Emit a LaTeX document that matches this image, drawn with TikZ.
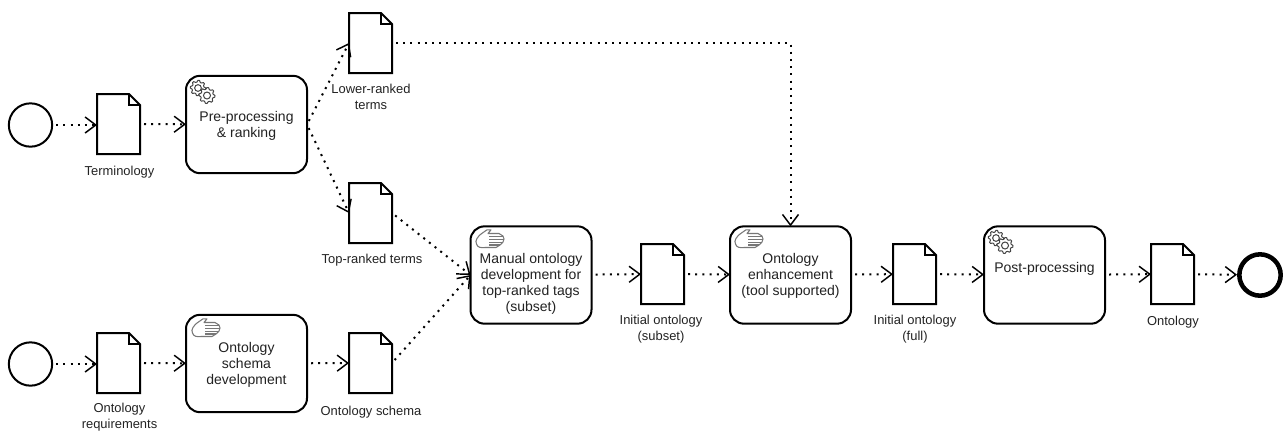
\documentclass[tikz,border=0pt]{standalone}
\usepackage{fontspec}
\setmainfont{Liberation Sans}
\usetikzlibrary{arrows.meta}
\definecolor{txt}{HTML}{222222}
\definecolor{icon}{HTML}{444444}
\definecolor{handc}{HTML}{777777}
\newcommand{\gearshape}[3]{% cx cy r
  \draw[icon,line width=0.75pt,fill=white,line join=round] plot[samples=33,domain=0:360,variable=\a] ({#1+(#3+(mod(\a+5,45)<22?0.7:-1.0))*cos(\a)},{#2+(#3+(mod(\a+5,45)<22?0.7:-1.0))*sin(\a)}) -- cycle;
  \draw[icon,line width=0.75pt] (#1,#2) circle[radius=#3*0.48];
}
\newcommand{\gears}[2]{%
  \gearshape{#1+8}{#2+8}{7}
  \gearshape{#1+17}{#2+15.5}{7.3}
}
\newcommand{\handicon}[2]{%
  \begin{scope}[shift={(#1,#2)},draw=handc,line width=0.8pt,line join=round]
    \draw (1.5,15) .. controls (-0.5,11.5) and (3,7.5) .. (6,5) -- (12,0.8) -- (16,0.8) -- (13,4.5) -- (24,4.5) -- (28,7) -- (29,10) -- (28,13) -- (25,16) -- (21,18.5) -- (10,18.5) .. controls (6,19) and (2.5,18.5) .. (1.5,15);
    \draw (14,7.5) -- (28,7.5);
    \draw (14,10.5) -- (29,10.5);
    \draw (14,13.5) -- (28,13.5);
    \draw (14,16) -- (25,16);
  \end{scope}
}
% a document: transparent named node plus its dog-eared outline
\newcommand{\docnode}[3]{%
  \node[docbox] (#1) at (#2,#3) {};
  \draw[docline] (#1.north west) -- ([xshift=-8.25pt]#1.north east) -- ([yshift=-8.25pt]#1.north east) -- (#1.south east) -- (#1.south west) -- cycle;
  \draw[line width=1pt] ([xshift=-8.25pt]#1.north east) -- ([xshift=-8.25pt,yshift=-8.25pt]#1.north east) -- ([yshift=-8.25pt]#1.north east);
}
\tikzset{
  x=0.75pt,y=-0.75pt,
  taskbox/.style={draw=black,line width=1.5pt,rounded corners=10.5pt,fill=white,minimum width=90.75pt,minimum height=73pt,inner sep=0pt,outer sep=0pt},
  tasktext/.style={font=\fontsize{10.5}{12}\selectfont,text=txt,align=center,inner sep=0pt},
  doclabel/.style={font=\fontsize{9.7}{12}\selectfont,text=txt,align=center,inner sep=0pt},
  docbox/.style={minimum width=32.25pt,minimum height=45pt,inner sep=0pt,outer sep=0pt},
  docline/.style={draw=black,line width=1.5pt,line join=miter},
  startev/.style={circle,draw=black,line width=1.5pt,minimum size=32.5pt,inner sep=0pt,outer sep=0pt},
  endev/.style={circle,draw=black,line width=3.4pt,minimum size=31pt,inner sep=0pt,outer sep=1.7pt},
  flow/.style={line width=1.5pt,dash pattern=on 1.5pt off 3.9pt,dash phase=-3pt,-{Straight Barb[length=8pt,width=12pt,line width=1.1pt]}},
}
\begin{document}
\begin{tikzpicture}
\useasboundingbox (0,0) rectangle (1284,430);
% events
\node[startev] (s1) at (30.5,125) {};
\node[startev] (s2) at (30.5,364) {};
\node[endev] (e1) at (1260,275) {};
% documents
\docnode{dterm}{118.5}{124}
\docnode{dlow}{370.5}{43}
\docnode{dtop}{370.5}{213}
\docnode{dreq}{118.5}{363}
\docnode{dsch}{370.5}{363}
\docnode{dsub}{662.5}{274}
\docnode{dfull}{914.5}{274}
\docnode{dont}{1172.5}{274}
% tasks
\node[taskbox] (t1) at (246.5,124.5) {};
\node[taskbox] (t2) at (246.5,363.5) {};
\node[taskbox] (t3) at (531,275) {};
\node[taskbox] (t4) at (790.5,275) {};
\node[taskbox] (t5) at (1044.5,275) {};
% task texts
\node[tasktext] (t1l) at (246.5,126) {Pre-processing\\\& ranking};
\node[tasktext] (t2l) at (246.5,365) {Ontology\\schema\\development};
\node[tasktext] (t3l) at (531,284) {Manual ontology\\development for\\top-ranked tags\\(subset)};
\node[tasktext] (t4l) at (790.5,276) {Ontology\\enhancement\\(tool supported)};
\node[tasktext] (t5l) at (1044.5,269) {Post-processing};
% icons
\gears{190}{80}
\gears{988}{230}
\handicon{191}{318}
\handicon{475}{229}
\handicon{734}{229}
% doc labels
\node[doclabel] (lterm) at (119.5,172) {Terminology};
\node[doclabel] (llow) at (371,96.5) {Lower-ranked\\terms};
\node[doclabel] (ltop) at (372,260) {Top-ranked terms};
\node[doclabel] (lreq) at (119.5,417) {Ontology\\requirements};
\node[doclabel] (lsch) at (371,412) {Ontology schema};
\node[doclabel] (lsub) at (661,329.5) {Initial ontology\\(subset)};
\node[doclabel] (lfull) at (915,329.5) {Initial ontology\\(full)};
\node[doclabel] (lont) at (1173,322) {Ontology};
% flows
\draw[flow] (s1) -- (dterm.west |- s1);
\draw[flow] (dterm) -- (t1);
\draw[flow] (t1.east) -- (dlow.west);
\draw[flow] (t1.east) -- (dtop.west);
\draw[flow] (dlow.east) -| (t4.north);
\draw[flow] (dtop.east) -- (t3.west);
\draw[flow] (dsch.east) -- (t3.west);
\draw[flow] (s2) -- (dreq.west |- s2);
\draw[flow] (dreq) -- (t2);
\draw[flow] (t2) -- (dsch);
\draw[flow] (t3) -- (dsub);
\draw[flow] (dsub) -- (t4);
\draw[flow] (t4) -- (dfull);
\draw[flow] (dfull) -- (t5);
\draw[flow] (t5) -- (dont);
\draw[flow] (dont) -- (e1);
\end{tikzpicture}
\end{document}
